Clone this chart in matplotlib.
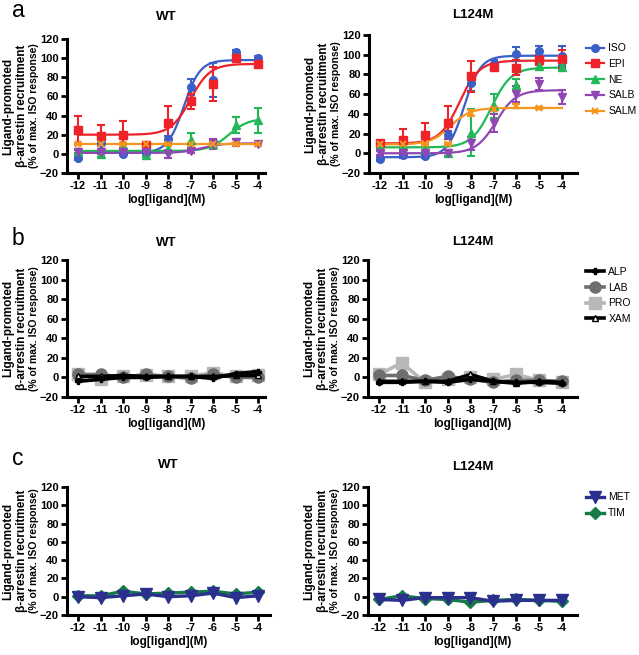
import numpy as np
import matplotlib
matplotlib.use("Agg")
import matplotlib.pyplot as plt
from matplotlib.lines import Line2D

plt.rcParams['font.family'] = ['Liberation Sans', 'DejaVu Sans']

# ---------------- data ----------------
log_conc = [-12, -11, -10, -9, -8, -7, -6, -5, -4]
xtick_labels = ['-12', '-11', '-10', '-9', '-8', '-7', '-6', '-5', '-4']
yticks = [-20, 0, 20, 40, 60, 80, 100, 120]

# panel a ligands
a_names = ['ISO', 'EPI', 'NE', 'SALB', 'SALM']
a_colors = ['#3a5fc8', '#ee2229', '#22b857', '#9146b4', '#f7961e']
a_markers = ['o', 's', '^', 'v', 'x']

# WT means / SEM
wt_iso = [-4, 11, 0, 1, 15, 70, 77, 106, 100]
wt_iso_err = [2, 10, 1, 1, 4, 8, 18, 3, 2]
wt_epi = [25, 19, 20, 9, 32, 55, 73, 100, 94]
wt_epi_err = [15, 11, 14, 3, 18, 8, 18, 3, 2]
wt_ne = [3, 0, 8, -1, 5, 14, 10, 30, 35]
wt_ne_err = [2, 3, 3, 2, 3, 8, 2, 8, 13]
wt_salb = [2, 2, 2, 2, 0, 3, 10, 12, 10]
wt_salb_err = [2, 2, 2, 2, 4, 2, 5, 4, 2]
wt_salm = [10, 10, 10, 10, 10, 10, 10, 10, 10]
wt_salm_err = [1, 1, 1, 1, 1, 1, 1, 1, 1]

# L124M means / SEM
mu_iso = [-6, -2, -3, 19, 71, 91, 101, 104, 99]
mu_iso_err = [2, 3, 2, 4, 8, 4, 7, 5, 10]
mu_epi = [10, 13, 19, 31, 78, 88, 87, 95, 96]
mu_epi_err = [2, 12, 12, 17, 16, 4, 8, 5, 9]
mu_ne = [6, 7, 5, 0, 21, 48, 69, 89, 88]
mu_ne_err = [2, 2, 2, 3, 24, 12, 6, 3, 3]
mu_salb = [0, 0, 0, 0, 10, 31, 60, 70, 57]
mu_salb_err = [2, 2, 2, 3, 7, 9, 8, 6, 7]
mu_salm = [9, 9, 9, 9, 41, 45, 48, 46, np.nan]
mu_salm_err = [1, 1, 1, 1, 3, 2, 2, 1, np.nan]

# sigmoid fit parameters: bottom, top, logEC50, hill
wt_fit_bottom = [1, 20, 3, 1, 10]
wt_fit_top = [98, 94, 37, 11, 10]
wt_fit_logec50 = [-7.3, -7.0, -5.3, -6.5, -7.0]
wt_fit_hill = [1.2, 1.0, 1.0, 1.0, 1.0]
mu_fit_bottom = [-4, 10, 6, 0, 9]
mu_fit_top = [99, 94, 87, 64, 46]
mu_fit_logec50 = [-8.3, -8.5, -7.1, -6.9, -8.9]
mu_fit_hill = [1.2, 1.0, 1.0, 1.0, 1.0]

# panel b ligands
b_names = ['ALP', 'LAB', 'PRO', 'XAM']
b_colors = ['#000000', '#6e6e6e', '#b8b8b8', '#000000']
b_markers = ['P', 'o', 's', '^']
wt_alp = [-4, -2, 0, 0, 1, 1, -1, 4, 6]
wt_lab = [3, 3, 0, 3, 1, -1, 3, 0, 0]
wt_pro = [3, -2, 1, 2, 1, 1, 5, 1, 2]
wt_xam = [1, 1, 2, 1, 1, 1, 1, 2, 2]
mu_alp = [-5, -5, -4, -5, -2, -4, -5, -5, -6]
mu_lab = [2, 2, -3, 1, -2, -5, -3, -3, -4]
mu_pro = [3, 15, -5, -2, 0, -2, 3, -3, -5]
mu_xam = [-4, -4, -4, -4, 3, -4, -6, -4, -5]

# panel c ligands
c_names = ['MET', 'TIM']
c_colors = ['#2b2f8e', '#167a48']
c_markers = ['v', 'D']
wt_met = [0, -1, 1, 3, 0, 1, 4, -1, 1]
wt_tim = [1, 1, 6, 3, 4, 5, 6, 3, 5]
mu_met = [-3, -4, -1, -1, -1, -5, -4, -4, -4]
mu_tim = [-3, 1, -2, -3, -6, -4, -3, -4, -5]

# ---------------- figure ----------------
W, H = 639, 655
fig = plt.figure(figsize=(W / 100, H / 100), dpi=100)


def px_axes(l, t, r, b):
    return fig.add_axes([l / W, 1 - b / H, (r - l) / W, (b - t) / H])


def style(ax, xl, title, title_y):
    ax.set_xlim(*xl)
    ax.set_ylim(-20, 120)
    ax.set_xticks(log_conc)
    ax.set_xticklabels(xtick_labels)
    ax.set_yticks(yticks)
    for s in ['top', 'right']:
        ax.spines[s].set_visible(False)
    for s in ['left', 'bottom']:
        ax.spines[s].set_linewidth(2.2)
    ax.tick_params(axis='both', width=2.0, length=4, labelsize=8, pad=2)
    for lab in ax.get_xticklabels() + ax.get_yticklabels():
        lab.set_fontweight('bold')
    ax.set_xlabel('log[ligand](M)', fontsize=8.5, fontweight='bold', labelpad=2)
    bb = ax.get_position()
    fig.text(bb.x0 + bb.width / 2, 1 - title_y / H, title, ha='center', va='center',
             fontsize=9.5, fontweight='bold')
    # three-line y label
    wpx = bb.width * W
    for off, txt, fs in [(-59, 'Ligand-promoted', 8.5), (-45, 'β-arrestin recruitment', 8.5),
                         (-33, '(% of max. ISO response)', 7.5)]:
        ax.text(off / wpx, 0.5, txt, rotation=90, ha='center', va='center',
                fontsize=fs, fontweight='bold', transform=ax.transAxes)


def sig(x, b, t, e, h):
    return b + (t - b) / (1 + 10 ** ((e - x) * h))


xfine = np.linspace(-12, -4, 300)

axes_px = {
    'aL': (67, 39, 265, 173), 'aR': (369, 35, 577, 173),
    'bL': (67, 260, 265, 397), 'bR': (368, 260, 577, 397),
    'cL': (67, 487, 270, 615), 'cR': (368, 487, 577, 615),
}
xl_left = (-12.49, -3.69)
xl_right = (-12.48, -3.34)

leg_kw = dict(loc='upper left', frameon=False, fontsize=7.5, handlelength=1.7,
              labelspacing=0.55, borderaxespad=0, handletextpad=0.4)

# ---- panel a ----
wt_a = [(wt_iso, wt_iso_err), (wt_epi, wt_epi_err), (wt_ne, wt_ne_err),
        (wt_salb, wt_salb_err), (wt_salm, wt_salm_err)]
mu_a = [(mu_iso, mu_iso_err), (mu_epi, mu_epi_err), (mu_ne, mu_ne_err),
        (mu_salb, mu_salb_err), (mu_salm, mu_salm_err)]

for key, data, fb, ft, fe, fh, title, ty, xl in [
        ('aL', wt_a, wt_fit_bottom, wt_fit_top, wt_fit_logec50, wt_fit_hill, 'WT', 17, xl_left),
        ('aR', mu_a, mu_fit_bottom, mu_fit_top, mu_fit_logec50, mu_fit_hill, 'L124M', 15, xl_right)]:
    ax = px_axes(*axes_px[key])
    order = [4, 3, 2, 1, 0]
    for i in order:
        y, e = data[i]
        c = a_colors[i]
        ax.plot(xfine, sig(xfine, fb[i], ft[i], fe[i], fh[i]), color=c, lw=1.6, zorder=2 + i * 0.1)
        ax.errorbar(log_conc, y, yerr=e, fmt='none', ecolor=c, elinewidth=1.5,
                    capsize=3, capthick=1.5, zorder=3 + i * 0.1)
        if a_markers[i] == 'x':
            ax.plot(log_conc, y, ls='none', marker='x', color=c, ms=5, mew=1.5, zorder=4 + i * 0.1)
        else:
            ax.plot(log_conc, y, ls='none', marker=a_markers[i], color=c, ms=5.5, zorder=4 + i * 0.1)
    style(ax, xl, title, ty)
    if key == 'aR':
        handles = []
        for i in range(5):
            if a_markers[i] == 'x':
                handles.append(Line2D([], [], color=a_colors[i], marker='x', ms=5, mew=1.5, lw=1.6))
            else:
                handles.append(Line2D([], [], color=a_colors[i], marker=a_markers[i], ms=5.5, lw=1.6))
        ax.legend(handles, a_names, bbox_to_anchor=(1.025, 0.97), **leg_kw)

# ---- panel b ----
wt_b = [wt_alp, wt_lab, wt_pro, wt_xam]
mu_b = [mu_alp, mu_lab, mu_pro, mu_xam]
b_ms = [4, 8, 8, 5]
for key, data, title, ty, xl in [('bL', wt_b, 'WT', 243, xl_left),
                                 ('bR', mu_b, 'L124M', 242, xl_right)]:
    ax = px_axes(*axes_px[key])
    for i in [2, 1, 3, 0]:
        y = data[i]
        c = b_colors[i]
        mfc = 'white' if i == 3 else c
        ax.plot(log_conc, y, color=c, lw=2.6, marker=b_markers[i], ms=b_ms[i],
                mfc=mfc, mec=c, mew=1.0, zorder=2 + (i == 0))
    style(ax, xl, title, ty)
    if key == 'bR':
        handles = [Line2D([], [], color=b_colors[i], lw=2.6, marker=b_markers[i], ms=b_ms[i],
                          mfc=('white' if i == 3 else b_colors[i]), mec=b_colors[i], mew=1.0)
                   for i in range(4)]
        ax.legend(handles, b_names, bbox_to_anchor=(1.025, 0.98), **leg_kw)

# ---- panel c ----
wt_c = [wt_met, wt_tim]
mu_c = [mu_met, mu_tim]
c_ms = [8, 6]
for key, data, title, ty, xl in [('cL', wt_c, 'WT', 465, (-12.49, -3.47)),
                                 ('cR', mu_c, 'L124M', 467, xl_right)]:
    ax = px_axes(*axes_px[key])
    for i in [1, 0]:
        ax.plot(log_conc, data[i], color=c_colors[i], lw=2.4, marker=c_markers[i], ms=c_ms[i],
                zorder=2 + (i == 0))
    style(ax, xl, title, ty)
    if key == 'cR':
        handles = [Line2D([], [], color=c_colors[i], lw=2.4, marker=c_markers[i], ms=c_ms[i])
                   for i in range(2)]
        ax.legend(handles, c_names, bbox_to_anchor=(1.025, 0.99), **leg_kw)

# panel letters
for letter, ybase in [('a', 17), ('b', 245), ('c', 465)]:
    fig.text(12 / W, 1 - ybase / H, letter, fontsize=16.5, ha='left', va='baseline')

fig.savefig('out.png', dpi=100)
